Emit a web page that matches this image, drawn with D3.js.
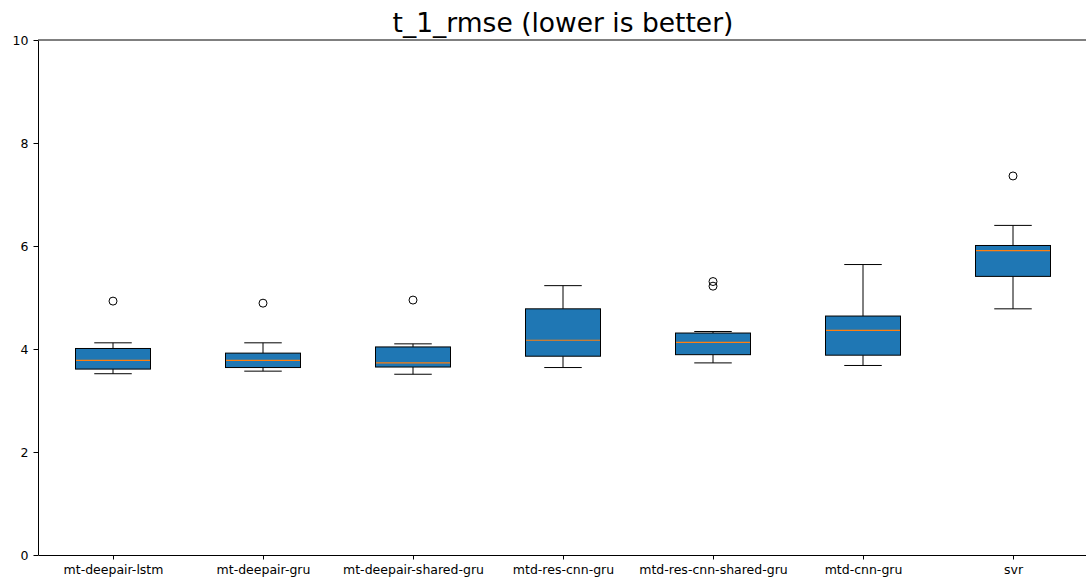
<!DOCTYPE html>
<html>
<head>
<meta charset="utf-8">
<title>t_1_rmse</title>
<style>
body { margin: 0; background: #fff; }
svg { display: block; font-family: "DejaVu Sans", sans-serif; }
.box { fill: #1f77b4; stroke: #000; stroke-width: 1; }
.median { stroke: #ff7f0e; stroke-width: 1.2; }
.whisker, .cap { stroke: #000; stroke-width: 1; }
.flier { fill: none; stroke: #000; stroke-width: 1; }
</style>
</head>
<body>
<script src="https://d3js.org/d3.v7.min.js"></script>
<script>

// Data
var models = ["mt-deepair-lstm", "mt-deepair-gru", "mt-deepair-shared-gru",
              "mtd-res-cnn-gru", "mtd-res-cnn-shared-gru", "mtd-cnn-gru", "svr"];
var whiskerLow  = [3.52, 3.57, 3.51, 3.64, 3.73, 3.68, 4.78];
var q1          = [3.61, 3.64, 3.65, 3.86, 3.89, 3.88, 5.41];
var medians     = [3.78, 3.78, 3.73, 4.17, 4.13, 4.36, 5.91];
var q3          = [4.01, 3.92, 4.04, 4.78, 4.31, 4.64, 6.01];
var whiskerHigh = [4.12, 4.12, 4.10, 5.23, 4.34, 5.64, 6.40];
var outliers    = [[4.93], [4.89], [4.95], [], [5.22, 5.31], [], [7.36]];
var yTicks = [0, 2, 4, 6, 8, 10];

// Dimensions
var margin = {top: 40, left: 38},
    plotW = 1050, plotH = 515;

var svg = d3.select("body").append("svg")
    .attr("width", 1086)
    .attr("height", 580);

var g = svg.append("g")
    .attr("transform", "translate(" + margin.left + "," + margin.top + ")");

// Scales
var x = d3.scaleLinear().domain([0.5, models.length + 0.5]).range([0, plotW]);
var y = d3.scaleLinear().domain([0, 10]).range([plotH, 0]);

var boxW = x(1.25) - x(1),     // half width of a box (0.5 wide)
    capW = boxW / 2;

var rows = models.map(function(m, i) {
  return {name: m, pos: i + 1, lo: whiskerLow[i], q1: q1[i], med: medians[i],
          q3: q3[i], hi: whiskerHigh[i], out: outliers[i]};
});

var boxes = g.selectAll(".bp").data(rows).enter().append("g").attr("class", "bp");

// whiskers
boxes.append("line").attr("class", "whisker")
  .attr("x1", function(d) { return x(d.pos); }).attr("x2", function(d) { return x(d.pos); })
  .attr("y1", function(d) { return y(d.lo); }).attr("y2", function(d) { return y(d.q1); });
boxes.append("line").attr("class", "whisker")
  .attr("x1", function(d) { return x(d.pos); }).attr("x2", function(d) { return x(d.pos); })
  .attr("y1", function(d) { return y(d.q3); }).attr("y2", function(d) { return y(d.hi); });

// caps
boxes.append("line").attr("class", "cap")
  .attr("x1", function(d) { return x(d.pos) - capW; }).attr("x2", function(d) { return x(d.pos) + capW; })
  .attr("y1", function(d) { return y(d.lo); }).attr("y2", function(d) { return y(d.lo); });
boxes.append("line").attr("class", "cap")
  .attr("x1", function(d) { return x(d.pos) - capW; }).attr("x2", function(d) { return x(d.pos) + capW; })
  .attr("y1", function(d) { return y(d.hi); }).attr("y2", function(d) { return y(d.hi); });

// box
boxes.append("rect").attr("class", "box")
  .attr("x", function(d) { return x(d.pos) - boxW; })
  .attr("width", 2 * boxW)
  .attr("y", function(d) { return y(d.q3); })
  .attr("height", function(d) { return y(d.q1) - y(d.q3); });

// median
boxes.append("line").attr("class", "median")
  .attr("x1", function(d) { return x(d.pos) - boxW + 0.5; }).attr("x2", function(d) { return x(d.pos) + boxW - 0.5; })
  .attr("y1", function(d) { return y(d.med); }).attr("y2", function(d) { return y(d.med); });

// fliers
boxes.selectAll(".flier")
  .data(function(d) { return d.out.map(function(v) { return {pos: d.pos, v: v}; }); })
  .enter().append("circle").attr("class", "flier")
  .attr("cx", function(d) { return x(d.pos); })
  .attr("cy", function(d) { return y(d.v); })
  .attr("r", 4);

// Axes
var xAxis = g.append("g")
  .attr("transform", "translate(0," + plotH + ")")
  .call(d3.axisBottom(x)
    .tickValues(d3.range(1, models.length + 1))
    .tickFormat(function(d) { return models[d - 1]; })
    .tickSize(4.5).tickPadding(6).tickSizeOuter(0));

var yAxis = g.append("g")
  .call(d3.axisLeft(y).tickValues(yTicks).tickSize(4.5).tickPadding(5).tickSizeOuter(0));

// top and right spines
g.append("line").attr("x1", 0).attr("x2", plotW).attr("y1", 0).attr("y2", 0).attr("stroke", "#000");
g.append("line").attr("x1", plotW).attr("x2", plotW).attr("y1", 0).attr("y2", plotH).attr("stroke", "#000");

[xAxis, yAxis].forEach(function(a) {
  a.selectAll("text").style("font-family", "DejaVu Sans").style("font-size", "12.5px").attr("fill", "#000");
  a.selectAll("line, path").attr("stroke", "#000");
});

// Title
svg.append("text")
  .attr("x", margin.left + (x(models.length + 0.5) - x(0.5)) / 2)
  .attr("y", 32)
  .attr("text-anchor", "middle")
  .style("font-size", "26.5px")
  .text("t_1_rmse (lower is better)");

</script>
</body>
</html>
